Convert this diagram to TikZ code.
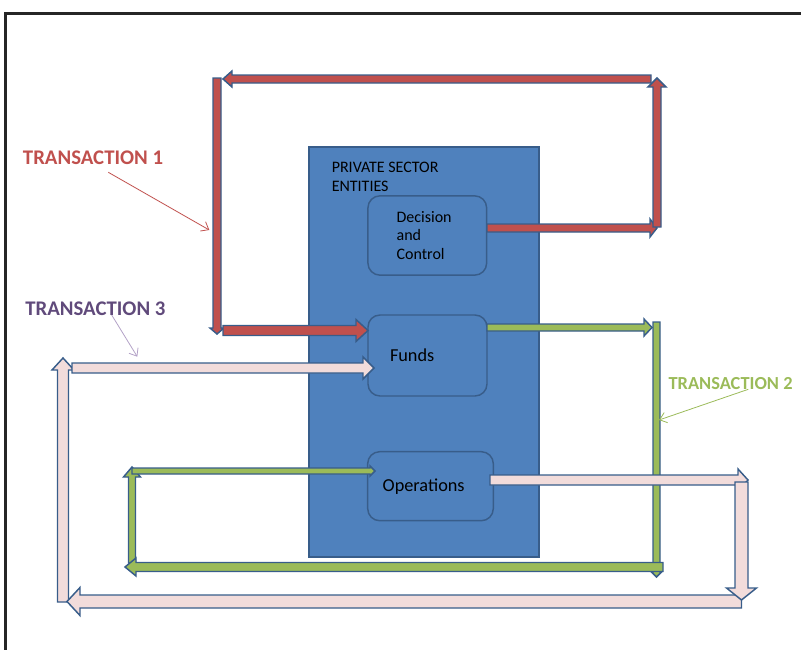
\documentclass[tikz,border=0pt]{standalone}
\usepackage{fontspec}
\setmainfont{Carlito}
\usepackage{tikz}
\usetikzlibrary{calc, arrows.meta}

\definecolor{boxblue}{HTML}{4F81BD}
\definecolor{edgeblue}{HTML}{385D8A}
\definecolor{tred}{HTML}{C0504D}
\definecolor{tgreen}{HTML}{9BBB59}
\definecolor{tpink}{HTML}{F2DCDB}
\definecolor{tpurple}{HTML}{604A7B}
\definecolor{tlilac}{HTML}{B3A2C7}

% block arrow: fill, from, to, shaft half width, head half width, head length (px)
\newcommand\fatarrow[6]{%
  \pgfmathsetlengthmacro\arrShaft{#4*0.75pt}%
  \pgfmathsetlengthmacro\arrHead{#5*0.75pt}%
  \pgfmathsetlengthmacro\arrLen{#6*0.75pt}%
  \draw[fatline, fill=#1]
    ($#2!\arrShaft!90:#3$) -- ($($#3!\arrLen!#2$)!\arrShaft!90:#3$)
    -- ($($#3!\arrLen!#2$)!\arrHead!90:#3$) -- #3
    -- ($($#3!\arrLen!#2$)!\arrHead!-90:#3$) -- ($($#3!\arrLen!#2$)!\arrShaft!-90:#3$)
    -- ($#2!\arrShaft!-90:#3$) -- cycle;}

\tikzset{
  fatline/.style={draw=edgeblue, line width=1.1pt, line join=miter},
  callout/.style={line width=0.6pt, -{Straight Barb[length=5pt,width=8pt]}},
  tlabel/.style={font=\bfseries\fontsize{15.6}{18}\selectfont, anchor=west, inner sep=0pt},
  rbox/.style={draw=edgeblue, line width=1.1pt, fill=boxblue, rounded corners=9pt,
    align=left, inner ysep=0pt},
}

\begin{document}
\begin{tikzpicture}[x=0.75pt, y=-0.75pt]
  \useasboundingbox (0,0) rectangle (801,650);
  % frame
  \draw[line width=2.2pt, black!85] (5.8,650) -- (5.8,13.2) -- (801,13.2);

  % entities and their parts
  \node[draw=edgeblue, line width=1.1pt, fill=boxblue, minimum width=172.5pt,
    minimum height=307.5pt, inner sep=0pt] (pse) at (424,352) {};
  \node[anchor=north west, inner sep=0pt, align=left,
    font=\fontsize{12}{13.8}\selectfont] (psetext) at (331.5,162.3) {PRIVATE SECTOR\\ENTITIES};
  \node[rbox, minimum height=59.5pt, inner xsep=21.5pt, text width=46pt,
    font=\fontsize{12}{13.7}\selectfont] (dec) at (427.3,235.5) {Decision\\and\\Control};
  \node[rbox, minimum height=60.75pt, inner xsep=16.5pt, text width=56.25pt,
    font=\fontsize{13.7}{16}\selectfont] (funds) at (427.5,355.5) {Funds};
  \node[rbox, minimum height=51.75pt, inner xsep=11.25pt, text width=71.7pt,
    font=\fontsize{13.7}{16}\selectfont] (ops) at (430.5,486.2) {Operations};

  % corners of the flows
  \coordinate (r1a) at (487,228);    \coordinate (r1b) at (657,228);
  \coordinate (r2a) at (657,227);    \coordinate (r2b) at (657,78);
  \coordinate (r3a) at (651,79);     \coordinate (r3b) at (223,79);
  \coordinate (r4a) at (217,78);     \coordinate (r4b) at (217,334);
  \coordinate (r5a) at (223,330.5);  \coordinate (r5b) at (368,330.5);

  \coordinate (g1a) at (487,327.5);  \coordinate (g1b) at (652,327.5);
  \coordinate (g2a) at (656.5,322);  \coordinate (g2b) at (656.5,577);
  \coordinate (g3a) at (663,567);    \coordinate (g3b) at (125,567);
  \coordinate (g4a) at (132,563);    \coordinate (g4b) at (132,467);
  \coordinate (g5a) at (132,471);    \coordinate (g5b) at (375,471);

  \coordinate (p1a) at (490,480);    \coordinate (p1b) at (748,480);
  \coordinate (p2a) at (741.5,482);  \coordinate (p2b) at (741.5,600);
  \coordinate (p3a) at (741.5,601.5);\coordinate (p3b) at (67,601.5);
  \coordinate (p4a) at (63,602);     \coordinate (p4b) at (63,358);
  \coordinate (p5a) at (72,368);     \coordinate (p5b) at (374,368);

  % transaction 1
  \fatarrow{tred}{(r1a)}{(r1b)}{4}{9}{7}
  \fatarrow{tred}{(r2a)}{(r2b)}{4}{9}{9}
  \fatarrow{tred}{(r3a)}{(r3b)}{4}{8}{9}
  \fatarrow{tred}{(r4a)}{(r4b)}{4}{7}{6}
  \fatarrow{tred}{(r5a)}{(r5b)}{5}{11}{12}

  % transaction 2
  \fatarrow{tgreen}{(g1a)}{(g1b)}{3.5}{8.5}{8}
  \fatarrow{tgreen}{(g2a)}{(g2b)}{3.5}{5}{5}
  \fatarrow{tgreen}{(g4a)}{(g4b)}{3.5}{8.5}{10}
  \fatarrow{tgreen}{(g3a)}{(g3b)}{4.5}{9}{11}
  \fatarrow{tgreen}{(g5a)}{(g5b)}{3}{5}{5}

  % transaction 3
  \fatarrow{tpink}{(p4a)}{(p4b)}{5.5}{11}{12}
  \fatarrow{tpink}{(p3a)}{(p3b)}{6.5}{14}{13}
  \fatarrow{tpink}{(p1a)}{(p1b)}{5}{11}{10}
  \fatarrow{tpink}{(p2a)}{(p2b)}{6.5}{15}{12}
  \fatarrow{tpink}{(p5a)}{(p5b)}{5}{11}{11}

  % labels
  \node[tlabel, tred] (t1) at (22.7,157.5) {TRANSACTION 1};
  \node[tlabel, tpurple] (t3) at (25,309) {TRANSACTION 3};
  \node[tlabel, tgreen, font=\bfseries\fontsize{13.8}{16}\selectfont] (t2) at (668.3,383.5) {TRANSACTION 2};
  \coordinate (c1a) at (108.3,172.3);  \coordinate (c1b) at (209.3,230);
  \coordinate (c3a) at (111.7,315);    \coordinate (c3b) at (137.3,356.7);
  \coordinate (c2a) at (748.3,389.3);  \coordinate (c2b) at (659,420);
  \draw[callout, tred] (c1a) -- (c1b);
  \draw[callout, tlilac] (c3a) -- (c3b);
  \draw[callout, tgreen] (c2a) -- (c2b);
\end{tikzpicture}
\end{document}
